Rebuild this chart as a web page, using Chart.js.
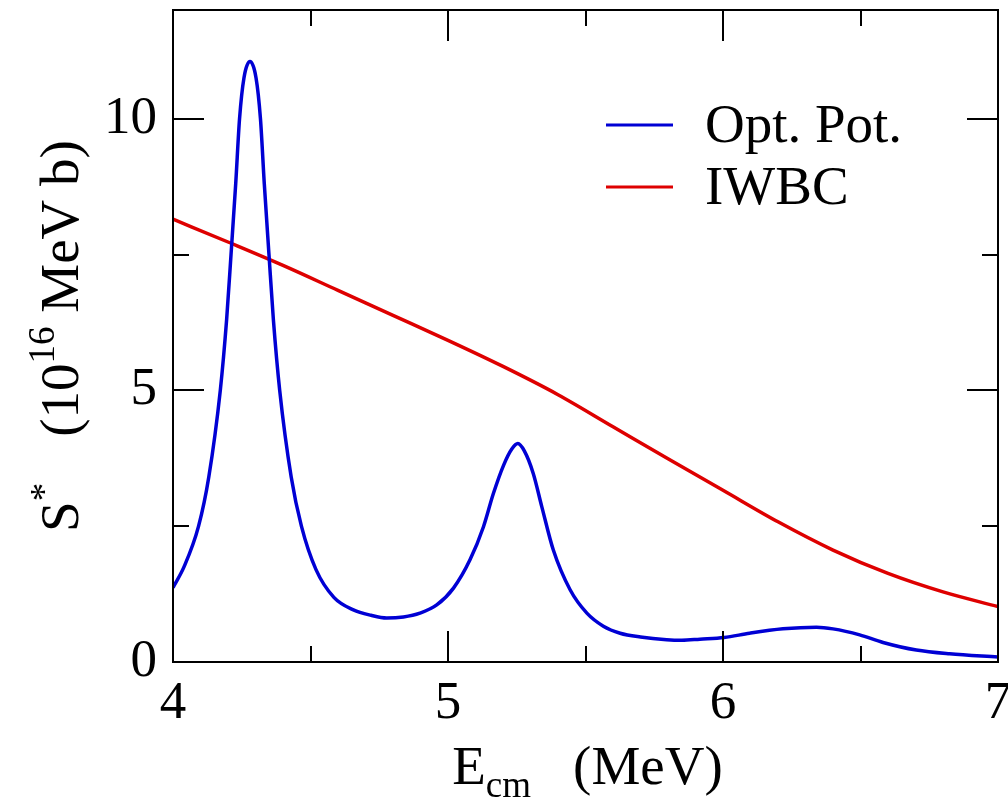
<!DOCTYPE html>
<html>
<head>
<meta charset="utf-8">
<script src="https://cdn.jsdelivr.net/npm/chart.js@4.4.0/dist/chart.umd.min.js"></script>
<style>
html, body { margin: 0; padding: 0; background: #fff; }
</style>
</head>
<body>
<canvas id="s-chart" width="1008" height="797"></canvas>
<script>
// E_cm (MeV) and S* (10^16 MeV b)
var energies = [4.00, 4.04, 4.093, 4.13, 4.172, 4.195, 4.211, 4.228, 4.242, 4.258, 4.28,
	4.302, 4.318, 4.332, 4.349, 4.365, 4.388, 4.43, 4.467, 4.52, 4.585, 4.656, 4.72,
	4.777, 4.838, 4.898, 4.959, 5.02, 5.08, 5.129, 5.165, 5.202, 5.232, 5.254, 5.278,
	5.31, 5.341, 5.383, 5.444, 5.505, 5.565, 5.626, 5.70, 5.795, 5.85, 5.916, 6.004,
	6.097, 6.218, 6.34, 6.40, 6.497, 6.582, 6.703, 6.824, 7.00];
var optPot = [1.37, 1.75, 2.50, 3.40, 5.00, 6.30, 7.50, 8.80, 10.00, 10.75, 11.05,
	10.75, 10.00, 8.80, 7.50, 6.30, 5.00, 3.40, 2.50, 1.70, 1.19, 0.96, 0.86,
	0.81, 0.83, 0.90, 1.05, 1.36, 1.88, 2.49, 3.10, 3.62, 3.92, 4.02, 3.88,
	3.47, 2.86, 2.06, 1.33, 0.90, 0.66, 0.53, 0.46, 0.41, 0.40, 0.42, 0.45,
	0.53, 0.61, 0.64, 0.61, 0.50, 0.36, 0.22, 0.15, 0.09];

var iwbcEnergies = [4.0, 4.2, 4.4, 4.6, 4.8, 5.0, 5.2, 5.4, 5.6, 5.8, 6.0, 6.2, 6.4, 6.6, 6.8, 7.0];
var iwbc = [8.15, 7.73, 7.30, 6.84, 6.38, 5.92, 5.44, 4.92, 4.33, 3.74, 3.16, 2.58, 2.06, 1.63, 1.29, 1.02];

var xTicks = [4, 5, 6, 7];
var xMinorTicks = [4.5, 5.5, 6.5];
var yTicks = [0, 5, 10];
var yMinorTicks = [2.5, 7.5];

var serif = '"Liberation Serif", "Times New Roman", serif';

function toPoints(xs, ys) {
	return xs.map(function (x, i) { return {x: x, y: ys[i]}; });
}

// frame, inward ticks on all sides, legend and axis titles (xmgrace look)
var gracePlugin = {
	id: 'grace',
	afterDraw: function (chart) {
		var ctx = chart.ctx;
		var a = chart.chartArea;
		var xs = chart.scales.x, ys = chart.scales.y;
		ctx.save();
		ctx.strokeStyle = '#000';
		ctx.lineWidth = 2;
		ctx.strokeRect(a.left, a.top, a.right - a.left, a.bottom - a.top);

		ctx.beginPath();
		function xt(vals, len) {
			vals.forEach(function (v) {
				var p = Math.round(xs.getPixelForValue(v));
				ctx.moveTo(p, a.bottom); ctx.lineTo(p, a.bottom - len);
				ctx.moveTo(p, a.top); ctx.lineTo(p, a.top + len);
			});
		}
		function yt(vals, len) {
			vals.forEach(function (v) {
				var p = Math.round(ys.getPixelForValue(v));
				ctx.moveTo(a.left, p); ctx.lineTo(a.left + len, p);
				ctx.moveTo(a.right, p); ctx.lineTo(a.right - len, p);
			});
		}
		xt(xTicks, 31); xt(xMinorTicks, 16);
		yt(yTicks, 31); yt(yMinorTicks, 16);
		ctx.stroke();

		// legend
		ctx.fillStyle = '#000';
		ctx.textBaseline = 'middle';
		ctx.textAlign = 'left';
		ctx.font = '55px ' + serif;
		chart.data.datasets.forEach(function (ds, i) {
			var y = 125 + i * 62;
			ctx.strokeStyle = ds.borderColor;
			ctx.lineWidth = 3;
			ctx.beginPath();
			ctx.moveTo(606, y); ctx.lineTo(673, y);
			ctx.stroke();
			ctx.fillText(ds.label, 705, y + 3);
		});

		// x title: E_cm   (MeV)
		ctx.textBaseline = 'alphabetic';
		var big = '55px ' + serif, small = '37px ' + serif;
		ctx.font = big; var wE = ctx.measureText('E').width;
		var wU = ctx.measureText('(MeV)').width;
		ctx.font = small; var wcm = ctx.measureText('cm').width;
		var gap = 42;
		var total = wE + wcm + gap + wU;
		var x0 = (a.left + a.right) / 2 - total / 2 + 2;
		var base = 784;
		ctx.font = big; ctx.fillText('E', x0, base);
		ctx.font = small; ctx.fillText('cm', x0 + wE, base + 13);
		ctx.font = big; ctx.fillText('(MeV)', x0 + wE + wcm + gap, base);

		// y title: S*  (10^16 MeV b)
		ctx.save();
		ctx.translate(78, (a.top + a.bottom) / 2);
		ctx.rotate(-Math.PI / 2);
		ctx.font = big; var wS = ctx.measureText('S').width;
		var w10 = ctx.measureText('(10').width;
		var wRest = ctx.measureText(' MeV b)').width;
		ctx.font = small; var wStar = ctx.measureText('*').width;
		var w16 = ctx.measureText('16').width;
		var g2 = 46;
		var tot2 = wS + wStar + g2 + w10 + w16 + wRest;
		var s = -tot2 / 2;
		ctx.font = big; ctx.fillText('S', s, 0);
		ctx.font = small; ctx.fillText('*', s + wS, -22);
		s += wS + wStar + g2;
		ctx.font = big; ctx.fillText('(10', s, 0);
		ctx.font = small; ctx.fillText('16', s + w10, -24);
		ctx.font = big; ctx.fillText(' MeV b)', s + w10 + w16, 0);
		ctx.restore();

		ctx.restore();
	}
};

var chart = new Chart(document.getElementById('s-chart'), {
	type: 'line',
	data: {
		datasets: [{
			label: 'Opt. Pot.',
			data: toPoints(energies, optPot),
			borderColor: '#0000d4',
			borderWidth: 3.5,
			pointRadius: 0,
			fill: false,
			cubicInterpolationMode: 'monotone'
		}, {
			label: 'IWBC',
			data: toPoints(iwbcEnergies, iwbc),
			borderColor: '#de0000',
			borderWidth: 3.5,
			pointRadius: 0,
			fill: false,
			cubicInterpolationMode: 'monotone'
		}]
	},
	options: {
		responsive: false,
		animation: false,
		devicePixelRatio: 1,
		layout: {padding: {left: 0, right: 10, top: 10, bottom: 0}},
		plugins: {
			legend: {display: false},
			tooltip: {enabled: false}
		},
		scales: {
			x: {
				type: 'linear',
				min: 4,
				max: 7,
				grid: {display: false, drawTicks: false},
				border: {display: false},
				ticks: {color: '#000', font: {family: serif, size: 53}, padding: 10, maxRotation: 0},
				afterBuildTicks: function (scale) {
					scale.ticks = xTicks.map(function (v) { return {value: v}; });
				},
				afterFit: function (scale) {
					scale.height = 135;
					scale.paddingLeft = 0;
					scale.paddingRight = 0;
				}
			},
			y: {
				type: 'linear',
				min: 0,
				max: 12,
				grid: {display: false, drawTicks: false},
				border: {display: false},
				ticks: {color: '#000', font: {family: serif, size: 53}, padding: 16},
				afterBuildTicks: function (scale) {
					scale.ticks = yTicks.map(function (v) { return {value: v}; });
				},
				afterFit: function (scale) {
					scale.width = 173;
					scale.paddingTop = 0;
					scale.paddingBottom = 0;
				}
			}
		}
	},
	plugins: [gracePlugin]
});
</script>
</body>
</html>
